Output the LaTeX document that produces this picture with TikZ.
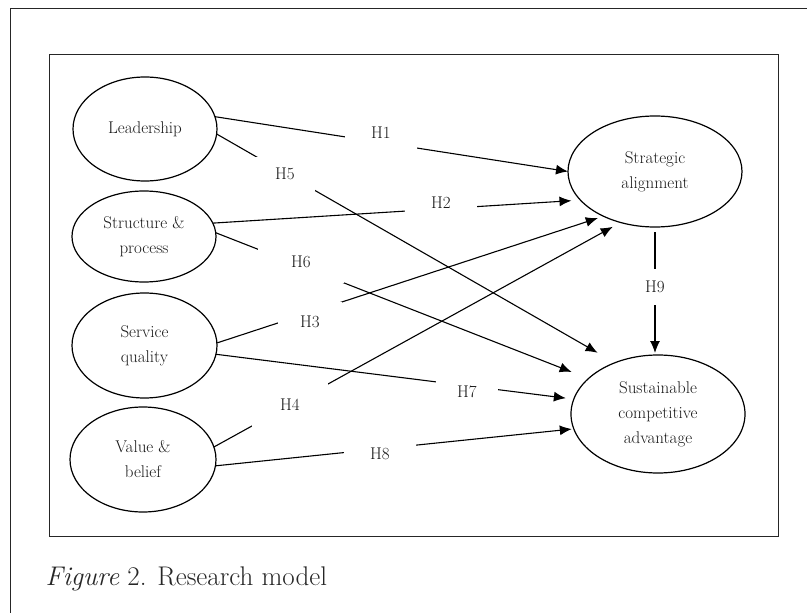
\documentclass[tikz,border=0pt]{standalone}
\usepackage{fontspec}
\usetikzlibrary{shapes.geometric,arrows.meta}
\begin{document}
\begin{tikzpicture}[x=1pt,y=-1pt,
  >={Latex[length=12pt,width=10pt]},
  construct/.style={ellipse, draw, line width=1.2pt, inner sep=0pt, outer sep=0pt, align=center, font=\fontsize{17}{25}\selectfont, text=black!90},
  hyp/.style={fill=white, inner sep=0pt, minimum width=62pt, minimum height=34pt, font=\fontsize{17}{18}\selectfont, text=black!90},
  link/.style={line width=1.1pt, ->}]

\useasboundingbox (0,0) rectangle (807,613);
\draw[line width=1pt, black!85] (10,613) -- (10,8) -- (807,8);
\draw[line width=1pt, black!85] (49,54) rectangle (778,536);

\node[construct, minimum width=144pt, minimum height=104pt] (lead) at (145,129) {Leadership};
\node[construct, minimum width=144pt, minimum height=91pt] (struct) at (144,236.5) {Structure \&\\process};
\node[construct, minimum width=145pt, minimum height=105pt] (serv) at (144.5,345.5) {Service\\quality};
\node[construct, minimum width=146pt, minimum height=105pt] (val) at (143,459.5) {Value \&\\belief};
\node[construct, minimum width=174pt, minimum height=111pt] (sa) at (655,171.5) {Strategic\\alignment};
\node[construct, minimum width=174pt, minimum height=118pt] (sca) at (658,414) {Sustainable\\competitive\\advantage};

\draw[link] (lead.10) -- (sa.180);
\draw[link, shorten >=9pt] (struct.11.5) -- (sa.201.4);
\draw[link, shorten >=6pt] (serv.2) -- (sa.221);
\draw[link, shorten >=9pt] (val.10) -- (sa.236);
\draw[link, shorten >=20pt] (lead.-4) -- (sca.130);
\draw[link, shorten >=18pt] (struct.3.6) -- (sca.153);
\draw[link, shorten >=8pt] (serv.-7.6) -- (sca.170.6);
\draw[link, shorten >=2pt] (val.-5) -- (sca.190);
\draw[link, shorten <=5pt, shorten >=2pt] (sa.south) -- (sa.south |- sca.north);

\node[hyp, minimum width=72pt] (h1) at (381,133) {H1};
\node[hyp, minimum width=72pt] (h2) at (441,203) {H2};
\node[hyp, minimum width=64pt, minimum height=40pt] (h3) at (310,322) {H3};
\node[hyp, minimum width=76pt, minimum height=48pt] (h4) at (290,405) {H4};
\node[hyp, minimum width=60pt] (h5) at (285,174) {H5};
\node[hyp, minimum width=86pt, minimum height=42pt] (h6) at (301,262) {H6};
\node[hyp] (h7) at (467,392) {H7};
\node[hyp, minimum width=72pt] (h8) at (380,454) {H8};
\node[hyp, minimum width=34pt, minimum height=36pt] (h9) at (655,287) {H9};

\node[anchor=base west, font=\fontsize{27}{30}\selectfont, text=black!85] (caption) at (42,585) {\textit{Figure} 2. Research model};
\end{tikzpicture}
\end{document}
